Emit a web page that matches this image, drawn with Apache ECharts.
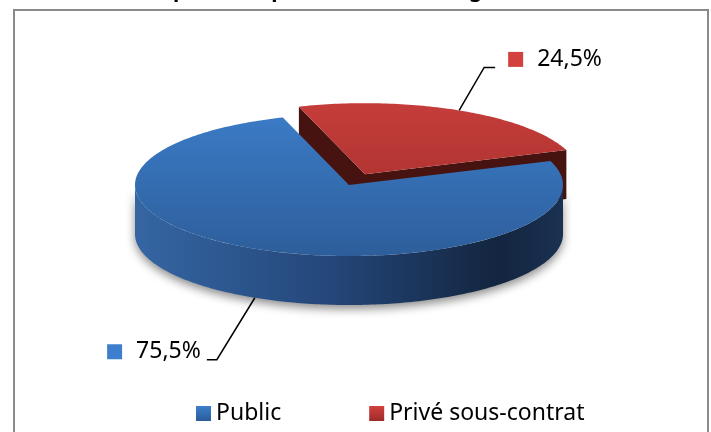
<!DOCTYPE html>
<html>
<head>
<meta charset="utf-8">
<script src="https://cdn.jsdelivr.net/npm/echarts@6/dist/echarts.min.js"></script>
<style>
html,body{margin:0;padding:0;background:#fff;}
#chart{width:711px;height:432px;}
</style>
</head>
<body>
<div id="chart"></div>
<script>
var categories = ['Public', 'Privé sous-contrat'];
var values = [75.5, 24.5];
var valueLabels = ['75,5%', '24,5%'];
var titleText = "Répartition par secteur d'enseignement";

// pie layout (pixels)
var CX = 349, CY = 185, RX = 214, RY = 71, DEPTH = 49;
var START = 108;          // first slice edge, degrees, slices run counter-clockwise
var explode = [0, 0.17];
var drawZ = [3, 2];
var leader = [[-38, 62, -10], [25, -43, 11]];
var topColors = [['#3b7bc6', '#2d5e9b'], ['#c53d3a', '#a02c2a']];
var wallColors = [
	['#3566a3', '#24477a', '#13253f', '#1a3152'],
	['#8a2523', '#6a1c1a', '#4a1412', '#5a1816']
];
var faceColors = ['#1d3a63', '#461310'];
var legendColors = [['#3d7fcc', '#2b5c98'], ['#d2413e', '#9c2b29']];

var total = values.reduce(function(a, b){ return a + b; }, 0);
var sliceStart = [], acc = START;
values.forEach(function(v){ sliceStart.push(acc); acc += v / total * 360; });

function rad(d){ return d * Math.PI / 180; }
function pt(a, r, h, off){
	return [CX + off[0] + r * RX * Math.cos(rad(a)), CY + off[1] - r * RY * Math.sin(rad(a)) + h];
}
function arc(a0, a1, h, off){
	var pts = [], n = Math.max(2, Math.ceil(Math.abs(a1 - a0)));
	for (var k = 0; k <= n; k++) { pts.push(pt(a0 + (a1 - a0) * k / n, 1, h, off)); }
	return pts;
}

function renderSlice(params, api){
	var i = params.seriesIndex;
	var a0 = sliceStart[i], a1 = a0 + api.value(0) / total * 360;
	var mid = (a0 + a1) / 2;
	var off = [explode[i] * RX * Math.cos(rad(mid)), -explode[i] * RY * Math.sin(rad(mid))];
	var c0 = pt(0, 0, 0, off), c1 = pt(0, 0, DEPTH, off);
	var children = [];
	// cut faces turned toward the viewer
	if (Math.cos(rad(a0)) > 0) {
		children.push({type:'polygon', shape:{points:[c0, pt(a0, 1, 0, off), pt(a0, 1, DEPTH, off), c1]}, style:{fill:faceColors[i]}});
	}
	if (Math.cos(rad(a1)) < 0) {
		children.push({type:'polygon', shape:{points:[c0, pt(a1, 1, 0, off), pt(a1, 1, DEPTH, off), c1]}, style:{fill:faceColors[i]}});
	}
	// outer wall, front half only
	for (var k = -1; k <= 2; k++) {
		var lo = Math.max(a0, 180 + 360 * k), hi = Math.min(a1, 360 + 360 * k);
		if (hi <= lo) continue;
		var pts = arc(lo, hi, 0, off).concat(arc(hi, lo, DEPTH, off));
		var wc = wallColors[i];
		children.push({type:'polygon', shape:{points:pts}, style:{
			fill:{type:'linear', x:CX - RX + off[0], y:0, x2:CX + RX + off[0], y2:0, global:true,
				colorStops:[{offset:0, color:wc[0]}, {offset:0.45, color:wc[1]}, {offset:0.85, color:wc[2]}, {offset:1, color:wc[3]}]},
			shadowBlur:10, shadowColor:'rgba(0,0,0,0.45)', shadowOffsetY:4
		}});
	}
	// top
	children.push({type:'polygon', shape:{points:[c0].concat(arc(a0, a1, 0, off))}, style:{
		fill:{type:'linear', x:0, y:CY - RY + off[1], x2:0, y2:CY + RY + off[1], global:true,
			colorStops:[{offset:0, color:topColors[i][0]}, {offset:1, color:topColors[i][1]}]}
	}});
	// leader line and label
	var front = Math.sin(rad(mid)) < 0;
	var p1 = pt(mid, 1, front ? DEPTH : 0, off);
	var l = leader[i];
	var p2 = [p1[0] + l[0], p1[1] + l[1]];
	var p3 = [p2[0] + l[2], p2[1]];
	children.push({type:'polyline', shape:{points:[p1, p2, p3]}, style:{stroke:'#000', lineWidth:1.5, fill:null}});
	var right = l[2] > 0;
	children.push({type:'text', x: right ? p3[0] + 13 : p3[0] - 6, y: p3[1] - 8, style:{
		text:'{m|}{t|' + valueLabels[i] + '}',
		align: right ? 'left' : 'right', verticalAlign:'middle',
		rich:{
			m:{width:15, height:15, backgroundColor:legendColors[i][0]},
			t:{fontSize:23, fontFamily:'Noto Sans', fill:'#000', padding:[0, 0, 0, 14]}
		}
	}});
	return {type:'group', children:children};
}

var chart = echarts.init(document.getElementById('chart'));
var option = {
	animation:false,
	backgroundColor:'#fff',
	title:{
		text:titleText, left:'center', top:-24,
		textStyle:{fontSize:21, fontWeight:'bold', fontFamily:'Noto Sans', color:'#000'}
	},
	graphic:[
		{type:'rect', z:0, shape:{x:14, y:10, width:694, height:440}, style:{fill:null, stroke:'#8a8a8a', lineWidth:2}}
	],
	legend:{
		data:categories, left:191, top:397, icon:'rect',
		itemWidth:15, itemHeight:15, itemGap:88,
		textStyle:{fontSize:23, fontFamily:'Noto Sans', color:'#000'}
	},
	series:categories.map(function(name, i){
		return {
			type:'custom', name:name, coordinateSystem:'none', z:drawZ[i], silent:true,
			renderItem:renderSlice,
			itemStyle:{color:{type:'linear', x:0, y:0, x2:0, y2:1,
				colorStops:[{offset:0, color:legendColors[i][0]}, {offset:1, color:legendColors[i][1]}]}},
			data:[values[i]]
		};
	})
};
chart.setOption(option);
</script>
</body>
</html>
